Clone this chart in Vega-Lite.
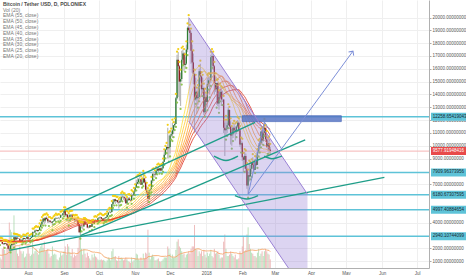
{
"$schema":"https://vega.github.io/schema/vega-lite/v6.json",
"width":429,"height":268,
"autosize":{"type":"none"},
"padding":{"left":0,"top":0,"right":37,"bottom":7},
"background":"white",
"config":{"view":{"stroke":null},"font":"Liberation Sans","axisX":{"orient":"bottom","labelFontSize":4.5,"labelColor":"#555555","labelFont":"Liberation Sans","tickSize":0,"labelPadding":2,"domainColor":"#b0b0b0","gridColor":"#efefef","grid":true,"labelOverlap":false}},
"title":{"text":"Bitcoin / Tether USD, D, POLONIEX","subtitle":["Vol (20)","EMA (55, close)","EMA (50, close)","EMA (45, close)","EMA (40, close)","EMA (35, close)","EMA (30, close)","EMA (25, close)","EMA (20, close)"],"anchor":"start","frame":"group","orient":"top","font":"Liberation Sans","fontSize":5,"fontWeight":"bold","color":"#4a4a4a","subtitleFont":"Liberation Sans","subtitleFontSize":5,"subtitleColor":"#777777","subtitleLineHeight":5.8,"subtitlePadding":0.6,"offset":-59,"dx":3},
"datasets":{
"ohlc":[
{"d":"2017-06-01","o":2300,"h":2450,"l":2290,"c":2410,"v":30},
{"d":"2017-06-02","o":2410,"h":2490,"l":2390,"c":2480,"v":28},
{"d":"2017-06-03","o":2480,"h":2560,"l":2460,"c":2540,"v":25},
{"d":"2017-06-04","o":2540,"h":2560,"l":2480,"c":2510,"v":22},
{"d":"2017-06-05","o":2510,"h":2700,"l":2500,"c":2690,"v":35},
{"d":"2017-06-06","o":2690,"h":2900,"l":2680,"c":2860,"v":50},
{"d":"2017-06-07","o":2860,"h":2880,"l":2640,"c":2690,"v":45},
{"d":"2017-06-08","o":2690,"h":2800,"l":2630,"c":2790,"v":35},
{"d":"2017-06-09","o":2790,"h":2840,"l":2760,"c":2820,"v":28},
{"d":"2017-06-10","o":2820,"h":2920,"l":2800,"c":2900,"v":30},
{"d":"2017-06-11","o":2900,"h":3000,"l":2880,"c":2980,"v":35},
{"d":"2017-06-12","o":2980,"h":2990,"l":2350,"c":2660,"v":70},
{"d":"2017-06-13","o":2660,"h":2790,"l":2620,"c":2720,"v":40},
{"d":"2017-06-14","o":2720,"h":2790,"l":2400,"c":2470,"v":50},
{"d":"2017-06-15","o":2470,"h":2500,"l":2120,"c":2440,"v":65},
{"d":"2017-06-16","o":2440,"h":2530,"l":2350,"c":2500,"v":38},
{"d":"2017-06-17","o":2500,"h":2680,"l":2480,"c":2640,"v":30},
{"d":"2017-06-18","o":2640,"h":2660,"l":2500,"c":2530,"v":28},
{"d":"2017-06-19","o":2530,"h":2630,"l":2510,"c":2600,"v":26},
{"d":"2017-06-20","o":2600,"h":2770,"l":2590,"c":2740,"v":35},
{"d":"2017-06-21","o":2740,"h":2790,"l":2610,"c":2660,"v":32},
{"d":"2017-06-22","o":2660,"h":2720,"l":2620,"c":2700,"v":25},
{"d":"2017-06-23","o":2700,"h":2740,"l":2670,"c":2700,"v":22},
{"d":"2017-06-24","o":2700,"h":2720,"l":2550,"c":2580,"v":25},
{"d":"2017-06-25","o":2580,"h":2640,"l":2500,"c":2570,"v":24},
{"d":"2017-06-26","o":2570,"h":2590,"l":2320,"c":2460,"v":45},
{"d":"2017-06-27","o":2460,"h":2580,"l":2350,"c":2560,"v":38},
{"d":"2017-06-28","o":2560,"h":2600,"l":2480,"c":2580,"v":28},
{"d":"2017-06-29","o":2580,"h":2600,"l":2520,"c":2550,"v":24},
{"d":"2017-06-30","o":2550,"h":2560,"l":2460,"c":2480,"v":26},
{"d":"2017-07-01","o":2480,"h":2500,"l":2400,"c":2430,"v":24},
{"d":"2017-07-02","o":2430,"h":2530,"l":2390,"c":2520,"v":25},
{"d":"2017-07-03","o":2520,"h":2600,"l":2500,"c":2580,"v":26},
{"d":"2017-07-04","o":2580,"h":2640,"l":2570,"c":2600,"v":24},
{"d":"2017-07-05","o":2600,"h":2630,"l":2550,"c":2610,"v":23},
{"d":"2017-07-06","o":2610,"h":2620,"l":2580,"c":2600,"v":20},
{"d":"2017-07-07","o":2600,"h":2610,"l":2480,"c":2500,"v":25},
{"d":"2017-07-08","o":2500,"h":2570,"l":2480,"c":2560,"v":22},
{"d":"2017-07-09","o":2560,"h":2580,"l":2500,"c":2510,"v":18},
{"d":"2017-07-10","o":2510,"h":2530,"l":2320,"c":2360,"v":40},
{"d":"2017-07-11","o":2360,"h":2410,"l":2250,"c":2330,"v":45},
{"d":"2017-07-12","o":2330,"h":2420,"l":2260,"c":2410,"v":38},
{"d":"2017-07-13","o":2410,"h":2420,"l":2330,"c":2360,"v":30},
{"d":"2017-07-14","o":2360,"h":2380,"l":2180,"c":2230,"v":42},
{"d":"2017-07-15","o":2230,"h":2240,"l":1950,"c":1970,"v":60},
{"d":"2017-07-16","o":1970,"h":2050,"l":1830,"c":1920,"v":95},
{"d":"2017-07-17","o":1920,"h":2250,"l":1910,"c":2230,"v":80},
{"d":"2017-07-18","o":2230,"h":2400,"l":2140,"c":2330,"v":75},
{"d":"2017-07-19","o":2330,"h":2410,"l":2260,"c":2290,"v":50},
{"d":"2017-07-20","o":2290,"h":2900,"l":2280,"c":2860,"v":110},
{"d":"2017-07-21","o":2860,"h":2880,"l":2620,"c":2680,"v":65},
{"d":"2017-07-22","o":2680,"h":2860,"l":2660,"c":2830,"v":40},
{"d":"2017-07-23","o":2830,"h":2850,"l":2700,"c":2760,"v":30},
{"d":"2017-07-24","o":2760,"h":2790,"l":2720,"c":2750,"v":25},
{"d":"2017-07-25","o":2750,"h":2770,"l":2470,"c":2580,"v":45},
{"d":"2017-07-26","o":2580,"h":2620,"l":2460,"c":2540,"v":35},
{"d":"2017-07-27","o":2540,"h":2700,"l":2530,"c":2690,"v":30},
{"d":"2017-07-28","o":2690,"h":2830,"l":2680,"c":2800,"v":35},
{"d":"2017-07-29","o":2800,"h":2810,"l":2700,"c":2730,"v":22},
{"d":"2017-07-30","o":2730,"h":2770,"l":2620,"c":2760,"v":24},
{"d":"2017-07-31","o":2760,"h":2890,"l":2740,"c":2870,"v":30},
{"d":"2017-08-01","o":2870,"h":2930,"l":2640,"c":2730,"v":45},
{"d":"2017-08-02","o":2730,"h":2760,"l":2650,"c":2700,"v":30},
{"d":"2017-08-03","o":2700,"h":2820,"l":2690,"c":2800,"v":25},
{"d":"2017-08-04","o":2800,"h":2880,"l":2770,"c":2870,"v":28},
{"d":"2017-08-05","o":2870,"h":3300,"l":2860,"c":3250,"v":55},
{"d":"2017-08-06","o":3250,"h":3290,"l":3170,"c":3220,"v":30},
{"d":"2017-08-07","o":3220,"h":3410,"l":3200,"c":3390,"v":35},
{"d":"2017-08-08","o":3390,"h":3490,"l":3350,"c":3420,"v":38},
{"d":"2017-08-09","o":3420,"h":3430,"l":3250,"c":3340,"v":32},
{"d":"2017-08-10","o":3340,"h":3450,"l":3320,"c":3420,"v":28},
{"d":"2017-08-11","o":3420,"h":3700,"l":3410,"c":3650,"v":40},
{"d":"2017-08-12","o":3650,"h":3950,"l":3640,"c":3850,"v":45},
{"d":"2017-08-13","o":3850,"h":4200,"l":3840,"c":4060,"v":50},
{"d":"2017-08-14","o":4060,"h":4330,"l":4000,"c":4320,"v":42},
{"d":"2017-08-15","o":4320,"h":4400,"l":3850,"c":4160,"v":55},
{"d":"2017-08-16","o":4160,"h":4400,"l":4000,"c":4380,"v":35},
{"d":"2017-08-17","o":4380,"h":4490,"l":4230,"c":4280,"v":38},
{"d":"2017-08-18","o":4280,"h":4370,"l":3980,"c":4110,"v":40},
{"d":"2017-08-19","o":4110,"h":4200,"l":3970,"c":4150,"v":30},
{"d":"2017-08-20","o":4150,"h":4200,"l":4040,"c":4050,"v":22},
{"d":"2017-08-21","o":4050,"h":4100,"l":3970,"c":4000,"v":25},
{"d":"2017-08-22","o":4000,"h":4120,"l":3640,"c":4090,"v":45},
{"d":"2017-08-23","o":4090,"h":4250,"l":4080,"c":4140,"v":28},
{"d":"2017-08-24","o":4140,"h":4350,"l":4120,"c":4320,"v":30},
{"d":"2017-08-25","o":4320,"h":4460,"l":4300,"c":4360,"v":28},
{"d":"2017-08-26","o":4360,"h":4370,"l":4280,"c":4350,"v":18},
{"d":"2017-08-27","o":4350,"h":4420,"l":4340,"c":4380,"v":16},
{"d":"2017-08-28","o":4380,"h":4400,"l":4240,"c":4380,"v":22},
{"d":"2017-08-29","o":4380,"h":4620,"l":4370,"c":4580,"v":32},
{"d":"2017-08-30","o":4580,"h":4640,"l":4470,"c":4570,"v":26},
{"d":"2017-08-31","o":4570,"h":4750,"l":4560,"c":4740,"v":28},
{"d":"2017-09-01","o":4740,"h":4960,"l":4730,"c":4930,"v":35},
{"d":"2017-09-02","o":4930,"h":4950,"l":4480,"c":4580,"v":45},
{"d":"2017-09-03","o":4580,"h":4700,"l":4460,"c":4630,"v":28},
{"d":"2017-09-04","o":4630,"h":4640,"l":4100,"c":4300,"v":50},
{"d":"2017-09-05","o":4300,"h":4500,"l":4000,"c":4420,"v":45},
{"d":"2017-09-06","o":4420,"h":4660,"l":4410,"c":4610,"v":32},
{"d":"2017-09-07","o":4610,"h":4680,"l":4530,"c":4620,"v":25},
{"d":"2017-09-08","o":4620,"h":4700,"l":4180,"c":4320,"v":40},
{"d":"2017-09-09","o":4320,"h":4370,"l":4200,"c":4310,"v":22},
{"d":"2017-09-10","o":4310,"h":4330,"l":4000,"c":4210,"v":28},
{"d":"2017-09-11","o":4210,"h":4370,"l":4150,"c":4180,"v":25},
{"d":"2017-09-12","o":4180,"h":4360,"l":4080,"c":4160,"v":28},
{"d":"2017-09-13","o":4160,"h":4170,"l":3800,"c":3870,"v":42},
{"d":"2017-09-14","o":3870,"h":3900,"l":3200,"c":3240,"v":65},
{"d":"2017-09-15","o":3240,"h":3800,"l":2980,"c":3700,"v":85},
{"d":"2017-09-16","o":3700,"h":3850,"l":3550,"c":3700,"v":40},
{"d":"2017-09-17","o":3700,"h":3780,"l":3480,"c":3690,"v":28},
{"d":"2017-09-18","o":3690,"h":4120,"l":3680,"c":4090,"v":40},
{"d":"2017-09-19","o":4090,"h":4110,"l":3850,"c":3900,"v":30},
{"d":"2017-09-20","o":3900,"h":4040,"l":3860,"c":3880,"v":22},
{"d":"2017-09-21","o":3880,"h":3900,"l":3560,"c":3620,"v":32},
{"d":"2017-09-22","o":3620,"h":3750,"l":3550,"c":3610,"v":25},
{"d":"2017-09-23","o":3610,"h":3810,"l":3580,"c":3790,"v":20},
{"d":"2017-09-24","o":3790,"h":3800,"l":3650,"c":3670,"v":16},
{"d":"2017-09-25","o":3670,"h":3970,"l":3660,"c":3930,"v":28},
{"d":"2017-09-26","o":3930,"h":3980,"l":3860,"c":3890,"v":22},
{"d":"2017-09-27","o":3890,"h":4230,"l":3880,"c":4210,"v":30},
{"d":"2017-09-28","o":4210,"h":4270,"l":4140,"c":4190,"v":24},
{"d":"2017-09-29","o":4190,"h":4220,"l":4040,"c":4170,"v":22},
{"d":"2017-09-30","o":4170,"h":4360,"l":4160,"c":4340,"v":18},
{"d":"2017-10-01","o":4340,"h":4410,"l":4290,"c":4400,"v":16},
{"d":"2017-10-02","o":4400,"h":4480,"l":4370,"c":4410,"v":17},
{"d":"2017-10-03","o":4410,"h":4440,"l":4260,"c":4310,"v":18},
{"d":"2017-10-04","o":4310,"h":4350,"l":4190,"c":4220,"v":16},
{"d":"2017-10-05","o":4220,"h":4350,"l":4160,"c":4320,"v":17},
{"d":"2017-10-06","o":4320,"h":4420,"l":4310,"c":4370,"v":15},
{"d":"2017-10-07","o":4370,"h":4460,"l":4320,"c":4440,"v":12},
{"d":"2017-10-08","o":4440,"h":4620,"l":4430,"c":4610,"v":16},
{"d":"2017-10-09","o":4610,"h":4800,"l":4580,"c":4780,"v":22},
{"d":"2017-10-10","o":4780,"h":4920,"l":4740,"c":4780,"v":20},
{"d":"2017-10-11","o":4780,"h":4880,"l":4740,"c":4820,"v":16},
{"d":"2017-10-12","o":4820,"h":5450,"l":4810,"c":5440,"v":35},
{"d":"2017-10-13","o":5440,"h":5850,"l":5380,"c":5640,"v":40},
{"d":"2017-10-14","o":5640,"h":5840,"l":5570,"c":5820,"v":22},
{"d":"2017-10-15","o":5820,"h":5860,"l":5450,"c":5690,"v":25},
{"d":"2017-10-16","o":5690,"h":5780,"l":5580,"c":5750,"v":16},
{"d":"2017-10-17","o":5750,"h":5770,"l":5500,"c":5600,"v":15},
{"d":"2017-10-18","o":5600,"h":5600,"l":5100,"c":5570,"v":25},
{"d":"2017-10-19","o":5570,"h":5720,"l":5560,"c":5700,"v":15},
{"d":"2017-10-20","o":5700,"h":6070,"l":5610,"c":5990,"v":22},
{"d":"2017-10-21","o":5990,"h":6180,"l":5900,"c":6010,"v":20},
{"d":"2017-10-22","o":6010,"h":6060,"l":5770,"c":5980,"v":16},
{"d":"2017-10-23","o":5980,"h":6050,"l":5640,"c":5900,"v":18},
{"d":"2017-10-24","o":5900,"h":5900,"l":5470,"c":5520,"v":22},
{"d":"2017-10-25","o":5520,"h":5760,"l":5400,"c":5740,"v":18},
{"d":"2017-10-26","o":5740,"h":5970,"l":5700,"c":5890,"v":14},
{"d":"2017-10-27","o":5890,"h":5990,"l":5730,"c":5760,"v":13},
{"d":"2017-10-28","o":5760,"h":5880,"l":5630,"c":5730,"v":11},
{"d":"2017-10-29","o":5730,"h":6300,"l":5700,"c":6150,"v":22},
{"d":"2017-10-30","o":6150,"h":6200,"l":6030,"c":6130,"v":13},
{"d":"2017-10-31","o":6130,"h":6470,"l":6100,"c":6450,"v":16},
{"d":"2017-11-01","o":6450,"h":6750,"l":6370,"c":6740,"v":20},
{"d":"2017-11-02","o":6740,"h":7340,"l":6740,"c":7030,"v":30},
{"d":"2017-11-03","o":7030,"h":7460,"l":7000,"c":7160,"v":28},
{"d":"2017-11-04","o":7160,"h":7470,"l":7000,"c":7380,"v":18},
{"d":"2017-11-05","o":7380,"h":7600,"l":7350,"c":7380,"v":16},
{"d":"2017-11-06","o":7380,"h":7400,"l":6950,"c":6960,"v":22},
{"d":"2017-11-07","o":6960,"h":7210,"l":6960,"c":7120,"v":16},
{"d":"2017-11-08","o":7120,"h":7800,"l":7080,"c":7450,"v":30},
{"d":"2017-11-09","o":7450,"h":7450,"l":7050,"c":7140,"v":20},
{"d":"2017-11-10","o":7140,"h":7300,"l":6450,"c":6570,"v":32},
{"d":"2017-11-11","o":6570,"h":6870,"l":6240,"c":6340,"v":30},
{"d":"2017-11-12","o":6340,"h":6460,"l":5500,"c":5860,"v":80},
{"d":"2017-11-13","o":5860,"h":6650,"l":5840,"c":6530,"v":32},
{"d":"2017-11-14","o":6530,"h":6720,"l":6430,"c":6600,"v":18},
{"d":"2017-11-15","o":6600,"h":7330,"l":6600,"c":7280,"v":25},
{"d":"2017-11-16","o":7280,"h":7960,"l":7100,"c":7800,"v":28},
{"d":"2017-11-17","o":7800,"h":8000,"l":7550,"c":7800,"v":24},
{"d":"2017-11-18","o":7800,"h":7850,"l":7500,"c":7760,"v":16},
{"d":"2017-11-19","o":7760,"h":8100,"l":7700,"c":8040,"v":16},
{"d":"2017-11-20","o":8040,"h":8300,"l":8000,"c":8200,"v":18},
{"d":"2017-11-21","o":8200,"h":8370,"l":7900,"c":8070,"v":20},
{"d":"2017-11-22","o":8070,"h":8270,"l":8060,"c":8240,"v":14},
{"d":"2017-11-23","o":8240,"h":8300,"l":8000,"c":8060,"v":13},
{"d":"2017-11-24","o":8060,"h":8350,"l":8040,"c":8250,"v":15},
{"d":"2017-11-25","o":8250,"h":8760,"l":8200,"c":8750,"v":18},
{"d":"2017-11-26","o":8750,"h":9480,"l":8730,"c":9300,"v":22},
{"d":"2017-11-27","o":9300,"h":9750,"l":9250,"c":9700,"v":22},
{"d":"2017-11-28","o":9700,"h":9980,"l":9650,"c":9900,"v":22},
{"d":"2017-11-29","o":9900,"h":11400,"l":9000,"c":9800,"v":45},
{"d":"2017-11-30","o":9800,"h":10800,"l":9000,"c":9900,"v":40},
{"d":"2017-12-01","o":9900,"h":10900,"l":9400,"c":10800,"v":30},
{"d":"2017-12-02","o":10800,"h":11100,"l":10700,"c":10900,"v":20},
{"d":"2017-12-03","o":10900,"h":11800,"l":10600,"c":11200,"v":28},
{"d":"2017-12-04","o":11200,"h":11600,"l":10900,"c":11600,"v":22},
{"d":"2017-12-05","o":11600,"h":11900,"l":11450,"c":11700,"v":22},
{"d":"2017-12-06","o":11700,"h":13800,"l":11700,"c":13700,"v":38},
{"d":"2017-12-07","o":13700,"h":17100,"l":13600,"c":16700,"v":55},
{"d":"2017-12-08","o":16700,"h":17300,"l":13800,"c":16200,"v":60},
{"d":"2017-12-09","o":16200,"h":16300,"l":13500,"c":15000,"v":45},
{"d":"2017-12-10","o":15000,"h":15700,"l":13100,"c":15200,"v":42},
{"d":"2017-12-11","o":15200,"h":17400,"l":15000,"c":16700,"v":35},
{"d":"2017-12-12","o":16700,"h":17500,"l":16500,"c":17200,"v":28},
{"d":"2017-12-13","o":17200,"h":17300,"l":15800,"c":16300,"v":30},
{"d":"2017-12-14","o":16300,"h":16900,"l":16000,"c":16400,"v":22},
{"d":"2017-12-15","o":16400,"h":17900,"l":16300,"c":17500,"v":28},
{"d":"2017-12-16","o":17500,"h":19300,"l":17300,"c":19200,"v":30},
{"d":"2017-12-17","o":19200,"h":19950,"l":18900,"c":19000,"v":35},
{"d":"2017-12-18","o":19000,"h":19200,"l":18000,"c":18800,"v":30},
{"d":"2017-12-19","o":18800,"h":18900,"l":16400,"c":17400,"v":40},
{"d":"2017-12-20","o":17400,"h":17900,"l":15700,"c":16500,"v":45},
{"d":"2017-12-21","o":16500,"h":17200,"l":14800,"c":15600,"v":45},
{"d":"2017-12-22","o":15600,"h":15700,"l":11000,"c":13600,"v":90},
{"d":"2017-12-23","o":13600,"h":15300,"l":13500,"c":14200,"v":40},
{"d":"2017-12-24","o":14200,"h":14300,"l":12500,"c":13700,"v":38},
{"d":"2017-12-25","o":13700,"h":14500,"l":13200,"c":13800,"v":25},
{"d":"2017-12-26","o":13800,"h":16000,"l":13700,"c":15800,"v":35},
{"d":"2017-12-27","o":15800,"h":16400,"l":15000,"c":15400,"v":30},
{"d":"2017-12-28","o":15400,"h":15500,"l":13800,"c":14400,"v":35},
{"d":"2017-12-29","o":14400,"h":15300,"l":14100,"c":14500,"v":25},
{"d":"2017-12-30","o":14500,"h":14600,"l":12400,"c":12600,"v":38},
{"d":"2017-12-31","o":12600,"h":14200,"l":12500,"c":13800,"v":28},
{"d":"2018-01-01","o":13800,"h":13900,"l":12900,"c":13400,"v":22},
{"d":"2018-01-02","o":13400,"h":15300,"l":13000,"c":14800,"v":32},
{"d":"2018-01-03","o":14800,"h":15400,"l":14600,"c":15100,"v":25},
{"d":"2018-01-04","o":15100,"h":15400,"l":14000,"c":15100,"v":30},
{"d":"2018-01-05","o":15100,"h":17100,"l":14900,"c":16900,"v":38},
{"d":"2018-01-06","o":16900,"h":17300,"l":16300,"c":17000,"v":25},
{"d":"2018-01-07","o":17000,"h":17100,"l":15900,"c":16200,"v":22},
{"d":"2018-01-08","o":16200,"h":16300,"l":14000,"c":14900,"v":40},
{"d":"2018-01-09","o":14900,"h":15400,"l":14200,"c":14400,"v":30},
{"d":"2018-01-10","o":14400,"h":14900,"l":13200,"c":14900,"v":32},
{"d":"2018-01-11","o":14900,"h":14950,"l":13100,"c":13300,"v":35},
{"d":"2018-01-12","o":13300,"h":14100,"l":12800,"c":13800,"v":28},
{"d":"2018-01-13","o":13800,"h":14600,"l":13700,"c":14200,"v":20},
{"d":"2018-01-14","o":14200,"h":14400,"l":13100,"c":13600,"v":22},
{"d":"2018-01-15","o":13600,"h":14300,"l":13400,"c":13600,"v":22},
{"d":"2018-01-16","o":13600,"h":13650,"l":11000,"c":11400,"v":55},
{"d":"2018-01-17","o":11400,"h":11800,"l":9200,"c":11200,"v":70},
{"d":"2018-01-18","o":11200,"h":12100,"l":10700,"c":11300,"v":40},
{"d":"2018-01-19","o":11300,"h":11800,"l":11000,"c":11600,"v":25},
{"d":"2018-01-20","o":11600,"h":13000,"l":11600,"c":12800,"v":25},
{"d":"2018-01-21","o":12800,"h":12800,"l":11300,"c":11500,"v":28},
{"d":"2018-01-22","o":11500,"h":11900,"l":10100,"c":10800,"v":35},
{"d":"2018-01-23","o":10800,"h":11300,"l":10000,"c":10900,"v":30},
{"d":"2018-01-24","o":10900,"h":11500,"l":10600,"c":11400,"v":25},
{"d":"2018-01-25","o":11400,"h":11700,"l":10900,"c":11200,"v":22},
{"d":"2018-01-26","o":11200,"h":11500,"l":10400,"c":11100,"v":28},
{"d":"2018-01-27","o":11100,"h":11600,"l":10900,"c":11500,"v":18},
{"d":"2018-01-28","o":11500,"h":12000,"l":11400,"c":11800,"v":18},
{"d":"2018-01-29","o":11800,"h":11900,"l":11100,"c":11200,"v":20},
{"d":"2018-01-30","o":11200,"h":11300,"l":9900,"c":10100,"v":35},
{"d":"2018-01-31","o":10100,"h":10400,"l":9700,"c":10200,"v":30},
{"d":"2018-02-01","o":10200,"h":10300,"l":8800,"c":9100,"v":45},
{"d":"2018-02-02","o":9100,"h":9200,"l":7900,"c":8900,"v":65},
{"d":"2018-02-03","o":8900,"h":9500,"l":8200,"c":9200,"v":35},
{"d":"2018-02-04","o":9200,"h":9400,"l":7900,"c":8200,"v":38},
{"d":"2018-02-05","o":8200,"h":8400,"l":6650,"c":6900,"v":70},
{"d":"2018-02-06","o":6900,"h":7900,"l":6180,"c":7700,"v":85},
{"d":"2018-02-07","o":7700,"h":8600,"l":7200,"c":7600,"v":50},
{"d":"2018-02-08","o":7600,"h":8500,"l":7600,"c":8200,"v":40},
{"d":"2018-02-09","o":8200,"h":8700,"l":7800,"c":8700,"v":32},
{"d":"2018-02-10","o":8700,"h":9100,"l":8200,"c":8500,"v":30},
{"d":"2018-02-11","o":8500,"h":8550,"l":7900,"c":8100,"v":25},
{"d":"2018-02-12","o":8100,"h":8950,"l":8100,"c":8900,"v":25},
{"d":"2018-02-13","o":8900,"h":8900,"l":8400,"c":8500,"v":22},
{"d":"2018-02-14","o":8500,"h":9500,"l":8500,"c":9500,"v":32},
{"d":"2018-02-15","o":9500,"h":10200,"l":9400,"c":10000,"v":40},
{"d":"2018-02-16","o":10000,"h":10300,"l":9700,"c":10200,"v":25},
{"d":"2018-02-17","o":10200,"h":11100,"l":10100,"c":11100,"v":30},
{"d":"2018-02-18","o":11100,"h":11200,"l":10100,"c":10400,"v":35},
{"d":"2018-02-19","o":10400,"h":11200,"l":10300,"c":11000,"v":25},
{"d":"2018-02-20","o":11000,"h":11850,"l":11000,"c":11400,"v":35},
{"d":"2018-02-21","o":11400,"h":11400,"l":10300,"c":10500,"v":40},
{"d":"2018-02-22","o":10500,"h":10900,"l":9800,"c":9900,"v":35},
{"d":"2018-02-23","o":9900,"h":10400,"l":9600,"c":10200,"v":30},
{"d":"2018-02-24","o":10200,"h":10500,"l":9400,"c":9700,"v":28},
{"d":"2018-02-25","o":9700,"h":9900,"l":9300,"c":9578,"v":18}
],
"hl":[
{"p":12258.65419043,"t":"12258.65419043","k":"c"},
{"p":9577.91948416,"t":"9577.91948416","k":"r"},
{"p":7909.96373956,"t":"7909.96373956","k":"c"},
{"p":6180.67307595,"t":"6180.67307595","k":"c"},
{"p":4997.40884654,"t":"4997.40884654","k":"c"},
{"p":2940.10744099,"t":"2940.10744099","k":"c"}
],
"tl":[
{"k":"g","d1":"2017-09-01","p1":4950,"d2":"2018-02-12","p2":11814},
{"k":"g","d1":"2017-09-15","p1":2980,"d2":"2018-03-27","p2":10462},
{"k":"g","d1":"2017-07-16","p1":1830,"d2":"2018-06-03","p2":7533},
{"k":"b","d1":"2018-02-06","p1":6180,"d2":"2018-02-20","p2":11850},
{"k":"b","d1":"2018-02-20","p1":11850,"d2":"2018-03-07","p2":9711},
{"k":"b","d1":"2018-02-06","p1":6180,"d2":"2018-05-07","p2":17372},
{"k":"p","d1":"2017-12-17","p1":20000,"d2":"2018-03-29","p2":6212},
{"k":"p","d1":"2017-12-17","p1":11912,"d2":"2018-03-29","p2":-1734}
],
"chan":[
{"d":"2017-12-17","top":20000,"bot":11912},
{"d":"2018-03-29","top":6212,"bot":-1734}
],
"box":[{"d1":"2018-02-01","d2":"2018-04-27","p1":12340,"p2":11880}],
"arcs":[
{"a":1,"d":"2018-01-07T17:00:00","p":9186},{"a":1,"d":"2018-01-18T00:00:00","p":8848},{"a":1,"d":"2018-01-28T07:00:00","p":9186},
{"a":2,"d":"2018-01-25T17:00:00","p":6106},{"a":2,"d":"2018-02-05T00:00:00","p":5844},{"a":2,"d":"2018-02-14T12:00:00","p":6106},
{"a":3,"d":"2018-02-19T19:00:00","p":9186},{"a":3,"d":"2018-02-26T12:00:00","p":8990},{"a":3,"d":"2018-03-07T00:00:00","p":9186}
],
"tip":[{"d":"2018-05-07","p":17372}]
},
"layer":[
{
"data":{"name":"ohlc"},
"transform":[{"window":[{"op":"mean","field":"v","as":"vma"}],"frame":[-19,0],"sort":[{"field":"d"}]}],
"layer":[
{"mark":{"type":"rule","strokeWidth":1,"clip":true,"opacity":0.75},
"encoding":{
"x":{"field":"d","type":"temporal","scale":{"domain":[{"year":2017,"month":7,"date":8},{"year":2018,"month":7,"date":11,"hours":7}],"nice":false},
"axis":{"orient":"bottom","tickCount":{"interval":"month","step":1},"labelExpr":"month(datum.value) == 0 ? timeFormat(datum.value, '%Y') : timeFormat(datum.value, '%b')","title":null}},
"y":{"field":"v","type":"quantitative","scale":{"domain":[0,560],"nice":false},"axis":null},
"y2":{"datum":0},
"color":{"condition":{"test":"datum.c >= datum.o","value":"#a5d6a7"},"value":"#e8a5a5"}}},
{"mark":{"type":"line","strokeWidth":1,"clip":true,"color":"#f5a76c","opacity":0.9},
"encoding":{
"x":{"field":"d","type":"temporal","axis":{"orient":"bottom","tickCount":{"interval":"month","step":1},"labelExpr":"month(datum.value) == 0 ? timeFormat(datum.value, '%Y') : timeFormat(datum.value, '%b')","title":null}},
"y":{"field":"vma","type":"quantitative","axis":null}}}
]
},
{
"layer":[
{"data":{"name":"hl"},
"mark":{"type":"rule"},
"encoding":{
"y":{"field":"p","type":"quantitative","scale":{"domain":[850,20976],"nice":false,"zero":false},
"axis":{"orient":"right","values":[1000,2000,4000,7000,9000,10000,11000,12000,13000,14000,15000,16000,17000,18000,19000,20000],"tickCount":40,"format":".8f","labelFontSize":4.5,"labelColor":"#555555","labelFont":"Liberation Sans","tickSize":2,"tickColor":"#aaaaaa","labelPadding":1,"domainColor":"#b0b0b0","gridColor":"#efefef","grid":true,"title":null,"labelOverlap":false}},
"color":{"condition":{"test":"datum.k == 'r'","value":"#f5b5b5"},"value":"#5ec3d8"},
"strokeWidth":{"condition":{"test":"datum.k == 'r'","value":1},"value":1.5}}},
{"data":{"name":"ohlc"},
"mark":{"type":"rule","strokeWidth":1.2,"color":"#b9b9b9","clip":true},
"encoding":{
"x":{"field":"d","type":"temporal","scale":{"domain":[{"year":2017,"month":7,"date":8},{"year":2018,"month":7,"date":11,"hours":7}],"nice":false},
"axis":{"orient":"bottom","tickCount":{"interval":"month","step":1},"labelExpr":"month(datum.value) == 0 ? timeFormat(datum.value, '%Y') : timeFormat(datum.value, '%b')","title":null}},
"y":{"field":"l","type":"quantitative"},
"y2":{"field":"h"}}},
{"data":{"name":"ohlc"},
"mark":{"type":"rule","strokeWidth":1.3,"clip":true},
"encoding":{
"x":{"field":"d","type":"temporal"},
"y":{"field":"o","type":"quantitative"},
"y2":{"field":"c"},
"color":{"condition":{"test":"datum.c >= datum.o","value":"#2e7d32"},"value":"#8e1b1b"}}},
{"data":{"name":"ohlc"},
"transform":[
{"window":[{"op":"mean","field":"c","as":"e20"}],"frame":[-19,0],"sort":[{"field":"d"}]},
{"window":[{"op":"mean","field":"c","as":"e25"}],"frame":[-24,0],"sort":[{"field":"d"}]},
{"window":[{"op":"mean","field":"c","as":"e30"}],"frame":[-29,0],"sort":[{"field":"d"}]},
{"window":[{"op":"mean","field":"c","as":"e35"}],"frame":[-34,0],"sort":[{"field":"d"}]},
{"window":[{"op":"mean","field":"c","as":"e40"}],"frame":[-39,0],"sort":[{"field":"d"}]},
{"window":[{"op":"mean","field":"c","as":"e45"}],"frame":[-44,0],"sort":[{"field":"d"}]},
{"window":[{"op":"mean","field":"c","as":"e50"}],"frame":[-49,0],"sort":[{"field":"d"}]},
{"window":[{"op":"mean","field":"c","as":"e55"}],"frame":[-54,0],"sort":[{"field":"d"}]},
{"fold":["e20","e25","e30","e35","e40","e45","e50","e55"],"as":["ema","val"]}],
"mark":{"type":"line","strokeWidth":1,"clip":true,"opacity":0.85},
"encoding":{
"x":{"field":"d","type":"temporal"},
"y":{"field":"val","type":"quantitative"},
"color":{"field":"ema","type":"nominal","legend":null,"scale":{"domain":["e20","e25","e30","e35","e40","e45","e50","e55"],"range":["#ffe24a","#ffd040","#ffbb3a","#ffa436","#fb8c34","#f47232","#ea5630","#dd3a2c"]}}}},
{"data":{"name":"ohlc"},
"mark":{"type":"circle","size":5,"color":"#f2cc0c","yOffset":-3,"clip":true,"opacity":0.95},
"encoding":{"x":{"field":"d","type":"temporal"},"y":{"field":"h","type":"quantitative"}}},
{"data":{"name":"ohlc"},
"transform":[{"filter":"datum.c >= datum.o"}],
"mark":{"type":"circle","size":5,"color":"#8bc34a","yOffset":3,"clip":true,"opacity":0.95},
"encoding":{"x":{"field":"d","type":"temporal"},"y":{"field":"l","type":"quantitative"}}},
{"data":{"name":"chan"},
"mark":{"type":"area","color":"#9b85d6","opacity":0.35,"clip":true},
"encoding":{"x":{"field":"d","type":"temporal"},"y":{"field":"top","type":"quantitative"},"y2":{"field":"bot"}}},
{"data":{"name":"box"},
"mark":{"type":"rect","color":"#5b78c6","opacity":0.85,"stroke":"#3c5db5","strokeWidth":0.8},
"encoding":{"x":{"field":"d1","type":"temporal"},"x2":{"field":"d2"},"y":{"field":"p1","type":"quantitative"},"y2":{"field":"p2"}}},
{"data":{"name":"tl"},
"mark":{"type":"rule","clip":true},
"encoding":{"x":{"field":"d1","type":"temporal"},"x2":{"field":"d2"},"y":{"field":"p1","type":"quantitative"},"y2":{"field":"p2"},
"color":{"condition":[{"test":"datum.k == 'g'","value":"#1f9e89"},{"test":"datum.k == 'b'","value":"#7d8fd8"}],"value":"#9b82d6"},
"strokeWidth":{"condition":{"test":"datum.k == 'g'","value":1.4},"value":1}}},
{"data":{"name":"arcs"},
"mark":{"type":"line","interpolate":"monotone","color":"#1f9e89","strokeWidth":1.5},
"encoding":{"x":{"field":"d","type":"temporal"},"y":{"field":"p","type":"quantitative"},"detail":{"field":"a"}}},
{"data":{"name":"tip"},
"mark":{"type":"point","shape":"M-1,1L0,0L1,1","angle":35,"filled":false,"color":"#7d8fd8","size":40,"strokeWidth":1,"opacity":1},
"encoding":{"x":{"field":"d","type":"temporal"},"y":{"field":"p","type":"quantitative"}}},
{"data":{"name":"hl"},
"mark":{"type":"bar","size":8},
"encoding":{"x":{"datum":{"year":2018,"month":7,"date":13},"type":"temporal"},"x2":{"datum":{"year":2018,"month":8,"date":14}},"y":{"field":"p","type":"quantitative"},
"color":{"condition":{"test":"datum.k == 'r'","value":"#e84a4a"},"value":"#5ec3d8"}}},
{"data":{"name":"hl"},
"mark":{"type":"text","align":"left","baseline":"middle","fontSize":4.5,"font":"Liberation Sans"},
"encoding":{"x":{"datum":{"year":2018,"month":7,"date":14,"hours":12},"type":"temporal"},"y":{"field":"p","type":"quantitative"},"text":{"field":"t"},
"color":{"condition":{"test":"datum.k == 'r'","value":"#ffffff"},"value":"#1a2a30"}}}
]
}
],
"resolve":{"scale":{"y":"independent"}}
}
